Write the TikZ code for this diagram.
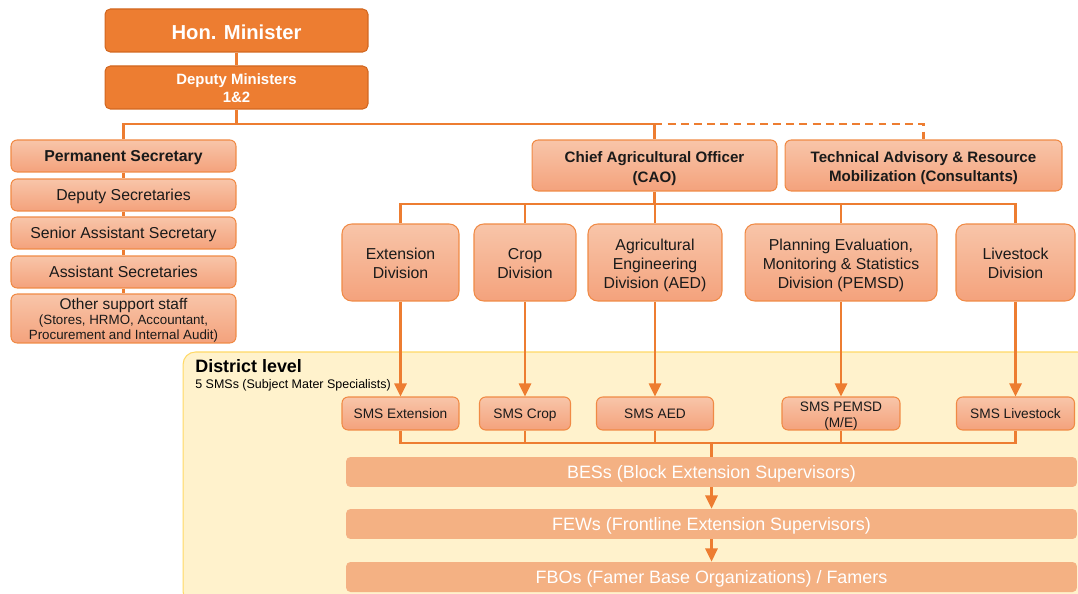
\documentclass[tikz,border=0pt]{standalone}
\usepackage{fontspec}
\setmainfont{Liberation Sans}
\usetikzlibrary{arrows.meta}

\definecolor{linkorange}{HTML}{ED7D31}
\definecolor{topfill}{HTML}{ED7D31}
\definecolor{topedge}{HTML}{D2671F}
\definecolor{paletop}{HTML}{F8C5A9}
\definecolor{palebot}{HTML}{F4A27C}
\definecolor{paleedge}{HTML}{F08A45}
\definecolor{bandfill}{HTML}{F4B183}
\definecolor{districtfill}{HTML}{FFF2CC}
\definecolor{districtedge}{HTML}{FFD966}
\definecolor{inktext}{HTML}{1A1A1A}

% centred block of lines, sitting a little low like the caps of one-liners
\newcommand{\stacked}[1]{\raisebox{-1.6pt}[\height][\depth]{\begin{tabular}{@{}c@{}}#1\end{tabular}}}

\begin{document}
\begin{tikzpicture}[x=0.02cm,y=-0.02cm,
  link/.style={draw=linkorange,line width=1.3pt},
  linkarrow/.style={link,-{Triangle[width=7pt,length=7.5pt]}},
  topbox/.style={shape=rectangle,draw=topedge,fill=topfill,line width=0.6pt,
    rounded corners=3pt,text=white,inner sep=0pt},
  palebox/.style={shape=rectangle,draw=paleedge,top color=paletop,bottom color=palebot,
    line width=0.6pt,rounded corners=3.5pt,text=inktext,inner sep=0pt},
  divbox/.style={palebox,rounded corners=5.5pt,minimum height=1.54cm,
    font=\fontsize{9}{10.8}\selectfont},
  smsbox/.style={palebox,minimum height=0.66cm,font=\fontsize{7.8}{9.2}\selectfont},
  smsline/.style={text height=5.6pt,text depth=0pt},
  secbox/.style={palebox,minimum width=4.5cm,minimum height=0.64cm,
    font=\fontsize{9}{10.8}\selectfont},
  secline/.style={text height=6.6pt,text depth=0pt},
  band/.style={shape=rectangle,fill=bandfill,rounded corners=2.5pt,text=white,inner sep=0pt,
    minimum width=14.62cm,minimum height=0.6cm,text height=7.9pt,text depth=0pt,
    font=\fontsize{10.2}{12}\selectfont},
  panel/.style={shape=rectangle,draw=districtedge,fill=districtfill,line width=0.6pt,
    rounded corners=7pt}]

  \useasboundingbox (0,0) rectangle (1078,594);

  % district level background
  \draw (636.5,478) node [panel,minimum width=18.14cm,minimum height=5.04cm] (district) {};
  \draw (195,373) node [anchor=base west,inner sep=0pt,text=black,
    font=\bfseries\fontsize{10.2}{12}\selectfont] (dlevel)
  {District level};
  \draw (195,388) node [anchor=base west,inner sep=0pt,text=black,
    font=\fontsize{7.1}{8}\selectfont] (dnote)
  {5 SMSs (Subject Mater Specialists)};

  % ministry
  \draw (236.5,30.5) node [topbox,minimum width=5.26cm,minimum height=0.86cm,
    text height=10.4pt,text depth=0pt,font=\bfseries\fontsize{11.5}{13}\selectfont] (hon)
  {Hon. Minister};

  \draw (236.5,87.5) node [topbox,minimum width=5.26cm,minimum height=0.86cm,
    font=\bfseries\fontsize{8.5}{10.2}\selectfont] (dep)
  {\stacked{Deputy Ministers\\1\&2}};

  % secretariat column
  \draw (123.5,156) node [secbox,secline,font=\bfseries\fontsize{9}{10.8}\selectfont] (ps)
  {Permanent Secretary};
  \draw (123.5,195) node [secbox,secline] (dsec) {Deputy Secretaries};
  \draw (123.5,233) node [secbox,secline] (sas) {Senior Assistant Secretary};
  \draw (123.5,272) node [secbox,secline] (asec) {Assistant Secretaries};
  \draw (123.5,318.5) node [secbox,minimum height=0.98cm,font=\fontsize{7.6}{8.4}\selectfont] (oss)
  {\stacked{{\fontsize{8.8}{10}\selectfont Other support staff}\\(Stores, HRMO, Accountant,\\Procurement and Internal Audit)}};

  % technical side
  \draw (654.5,165.5) node [palebox,minimum width=4.9cm,minimum height=1.02cm,
    font=\bfseries\fontsize{8.6}{11.8}\selectfont] (cao)
  {\stacked{Chief Agricultural Officer\\(CAO)}};

  \draw (923.5,165.5) node [palebox,minimum width=5.54cm,minimum height=1.02cm,
    font=\bfseries\fontsize{8.6}{11}\selectfont] (tech)
  {\stacked{Technical Advisory \& Resource\\Mobilization (Consultants)}};

  \draw (400.5,262.5) node [divbox,minimum width=2.34cm] (ext)
  {\stacked{Extension\\Division}};
  \draw (525,262.5) node [divbox,minimum width=2.04cm] (crop)
  {\stacked{Crop\\Division}};
  \draw (655,262.5) node [divbox,minimum width=2.68cm] (aed)
  {\stacked{Agricultural\\Engineering\\Division (AED)}};
  \draw (841,262.5) node [divbox,minimum width=3.84cm] (pemsd)
  {\stacked{Planning Evaluation,\\Monitoring \& Statistics\\Division (PEMSD)}};
  \draw (1015.5,262.5) node [divbox,minimum width=2.38cm] (live)
  {\stacked{Livestock\\Division}};

  % subject matter specialists
  \draw (400.5,413.5) node [smsbox,smsline,minimum width=2.34cm] (smsext) {SMS Extension};
  \draw (525,413.5) node [smsbox,smsline,minimum width=1.82cm] (smscrop) {SMS Crop};
  \draw (655,413.5) node [smsbox,smsline,minimum width=2.34cm] (smsaed) {SMS AED};
  \draw (841,413.5) node [smsbox,minimum width=2.36cm] (smspemsd)
  {\stacked{SMS PEMSD\\(M/E)}};
  \draw (1015.5,413.5) node [smsbox,smsline,minimum width=2.36cm] (smslive) {SMS Livestock};

  % field levels
  \draw (711.5,472) node [band] (bes) {BESs (Block Extension Supervisors)};
  \draw (711.5,524) node [band] (few) {FEWs (Frontline Extension Supervisors)};
  \draw (711.5,577) node [band] (fbo) {FBOs (Famer Base Organizations) / Famers};

  \coordinate (tbus) at (236.5,124);
  \coordinate (dbus) at (654.5,204);
  \coordinate (sbus) at (711.5,443);

  \draw[link] (hon.south) -- (dep.north);
  \draw[link] (dep.south) -- (tbus);
  \draw[link] (ps.north) |- (tbus) -| (cao.north);
  \draw[link,dash pattern=on 4.5pt off 3pt] (cao.north |- tbus) -| (tech.north);
  \draw[link] (ps.south) -- (dsec.north);
  \draw[link] (dsec.south) -- (sas.north);
  \draw[link] (sas.south) -- (asec.north);
  \draw[link] (asec.south) -- (oss.north);

  \draw[link] (cao.south) -- (dbus);
  \draw[link] (ext.north) |- (dbus) -| (live.north);
  \foreach \d in {crop,aed,pemsd}
    \draw[link] (\d.north) -- (\d.north |- dbus);
  \foreach \d in {ext,crop,aed,pemsd,live}
    \draw[linkarrow] (\d.south) -- (sms\d.north);

  \draw[link] (smsext.south) |- (sbus) -| (smslive.south);
  \foreach \d in {crop,aed,pemsd}
    \draw[link] (sms\d.south) -- (sms\d.south |- sbus);
  \draw[link] (sbus) -- (bes.north);
  \draw[linkarrow] (bes.south) -- (few.north);
  \draw[linkarrow] (few.south) -- (fbo.north);

\end{tikzpicture}
\end{document}
